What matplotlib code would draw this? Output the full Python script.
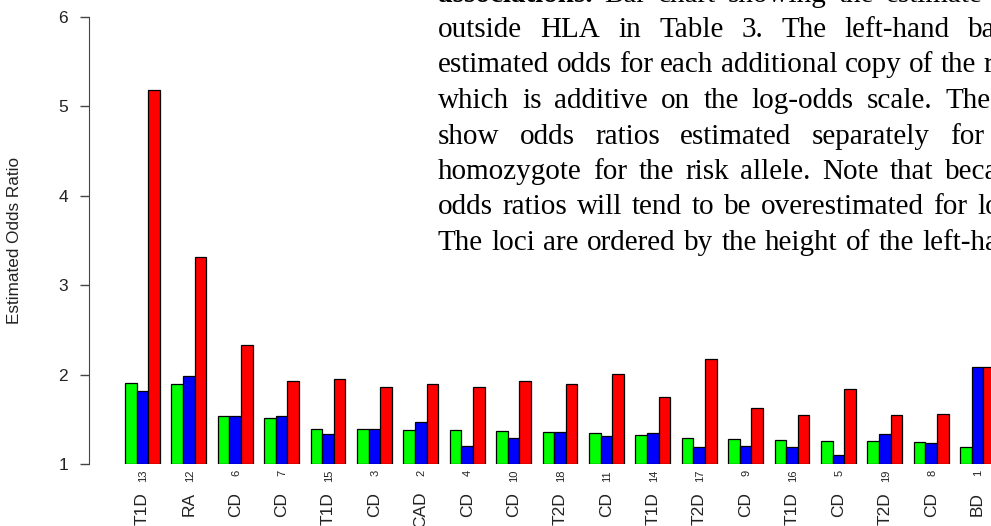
import numpy as np
import matplotlib
matplotlib.use('Agg')
import matplotlib.pyplot as plt

# loci ordered by the additive (left-hand) odds ratio
diseases = ['T1D', 'RA', 'CD', 'CD', 'T1D', 'CD', 'CAD', 'CD', 'CD', 'T2D',
            'CD', 'T1D', 'T2D', 'CD', 'T1D', 'CD', 'T2D', 'CD', 'BD']
locus = [13, 12, 6, 7, 15, 3, 2, 4, 10, 18, 11, 14, 17, 9, 16, 5, 19, 8, 1]
or_additive = [1.91, 1.90, 1.54, 1.52, 1.39, 1.39, 1.38, 1.38, 1.37, 1.36,
               1.35, 1.32, 1.29, 1.28, 1.27, 1.26, 1.26, 1.25, 1.19]
or_het = [1.82, 1.98, 1.54, 1.54, 1.34, 1.39, 1.47, 1.20, 1.29, 1.36,
          1.31, 1.35, 1.19, 1.20, 1.19, 1.10, 1.34, 1.24, 2.08]
or_hom = [5.18, 3.32, 2.33, 1.93, 1.95, 1.86, 1.90, 1.86, 1.93, 1.89,
          2.01, 1.75, 2.17, 1.63, 1.55, 1.84, 1.55, 1.56, 2.08]
yticks = [1, 2, 3, 4, 5, 6]

# caption lines behind the chart, each justified so its last word starts at last_word_x
caption_lines = [
    'associations. Bar chart showing the estimate',
    'outside HLA in Table 3. The left-hand bar',
    'estimated odds for each additional copy of the risk',
    'which is additive on the log-odds scale. The',
    'show odds ratios estimated separately for',
    'homozygote for the risk allele. Note that because',
    'odds ratios will tend to be overestimated for low',
    'The loci are ordered by the height of the left-hand',
]
last_word_x = [886, 968, 979, 945, 950, 945, 977, 922]
baselines = [1.5, 37, 72.5, 108, 143.5, 179, 214.5, 250]

W, H = 991, 526
fig = plt.figure(figsize=(W / 100, H / 100), dpi=100)
ax = fig.add_axes([89 / W, (H - 464) / H, 1 - 89 / W, (464 - 17) / H])

n = len(diseases)
left = 1 + 4 * np.arange(n)
kw = dict(width=1, align='edge', bottom=1, edgecolor='black', linewidth=0.9)
ax.bar(left, np.array(or_additive) - 1, color='#00ff00', **kw)
ax.bar(left + 1, np.array(or_het) - 1, color='#0000ff', **kw)
ax.bar(left + 2, np.array(or_hom) - 1, color='#ff0000', **kw)

ax.set_xlim(-2.1, 75.66)
ax.set_ylim(1, 6)
for s in ['top', 'right', 'bottom']:
    ax.spines[s].set_visible(False)
ax.spines['left'].set_bounds(1, 6)
ax.spines['left'].set_color('#444444')
ax.set_yticks(yticks)
ax.set_yticklabels([str(t) for t in yticks], fontsize=12.5, family='Liberation Sans',
                   color='#222222')
ax.tick_params(axis='y', length=6.5, width=1, color='#444444', pad=8.5)
ax.set_xticks([])

centers = left + 1.5
for c, d, k in zip(centers, diseases, locus):
    ax.annotate(str(k), xy=(c, 0), xycoords=ax.get_xaxis_transform(),
                xytext=(0.7, -4.3), textcoords='offset points', rotation=90,
                ha='center', va='top', fontsize=8, family='Liberation Sans',
                color='#222222', annotation_clip=False)
    ax.annotate(d, xy=(c, 0), xycoords=ax.get_xaxis_transform(),
                xytext=(0, -20), textcoords='offset points', rotation=90,
                ha='center', va='top', fontsize=12.5, family='Liberation Sans',
                color='#222222', annotation_clip=False)

fig.text(15 / W, 1 - 241 / H, 'Estimated Odds Ratio', rotation=90, ha='center',
         va='center', fontsize=12.3, family='Liberation Sans', color='#222222')

# caption text, justified like the page it came from (never tighter than a normal space)
renderer = fig.canvas.get_renderer()
fs = 21.0
space = 0.25 * fs * 100 / 72
x0 = 438
for i, (line, xl, yb) in enumerate(zip(caption_lines, last_word_x, baselines)):
    y = 1 - yb / H
    words = line.split(' ')
    arts = []
    for j, w in enumerate(words):
        wt = 'bold' if (i == 0 and j == 0) else 'normal'
        arts.append(fig.text(0, y, w, ha='left', va='baseline', fontsize=fs,
                             family='Liberation Serif', fontweight=wt, color='black'))
    widths = [a.get_window_extent(renderer).width for a in arts]
    gap = max(space, (xl - x0 - sum(widths[:-1])) / (len(words) - 1))
    xp = x0
    for a, wd in zip(arts, widths):
        a.set_x(xp / W)
        xp += wd + gap

fig.savefig('out.png', dpi=100)
